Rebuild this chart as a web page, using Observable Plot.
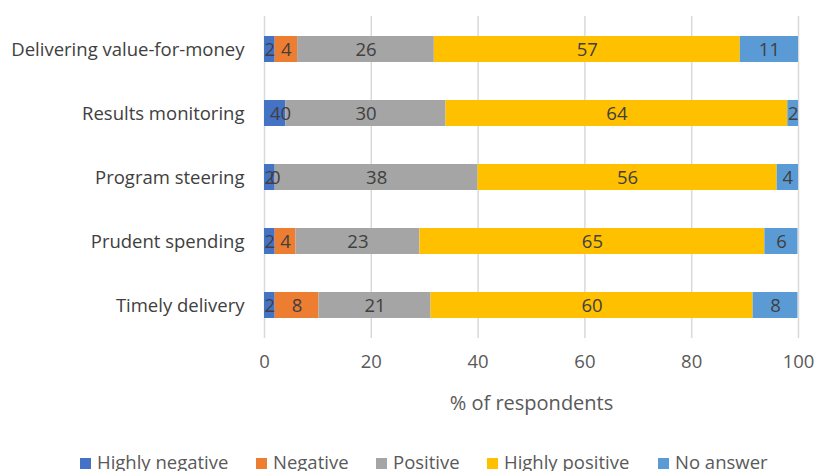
<!DOCTYPE html>
<html><head><meta charset="utf-8">
<script src="https://cdn.jsdelivr.net/npm/d3@7"></script>
<script src="https://cdn.jsdelivr.net/npm/@observablehq/plot@0.6"></script>
<style>
body{margin:0;background:#fff;font-family:"Open Sans", sans-serif;}
#legend{position:relative;width:816px;height:31px;overflow:hidden;}
.item{position:absolute;top:11px;height:22px;line-height:22px;font-size:18.5px;color:#595959;white-space:nowrap;}
.sw{display:inline-block;width:11px;height:11px;margin-right:6px;vertical-align:0px;}
</style></head><body><div id="chart"></div><div id="legend"></div>
<script>
const categories = ["Delivering value-for-money","Results monitoring","Program steering","Prudent spending","Timely delivery"];
const seriesNames = ["Highly negative","Negative","Positive","Highly positive","No answer"];
const colors = ["#4472C4","#ED7D31","#A5A5A5","#FFC000","#5B9BD5"];
const highlyNegative = [2, 4, 2, 2, 2];
const negative = [4.2, 0, 0, 3.9, 8.2];
const positive = [25.6, 30, 38, 23.2, 21];
const highlyPositive = [57.3, 64, 56, 64.6, 60.3];
const noAnswer = [10.9, 2, 4, 6.2, 8.4];
const xTicks = [0, 20, 40, 60, 80, 100];
const xLabel = "% of respondents";

const seriesValues = [highlyNegative, negative, positive, highlyPositive, noAnswer];
const data = [];
seriesValues.forEach((arr, s) => arr.forEach((v, i) => data.push({category: categories[i], series: seriesNames[s], value: v})));

const plot = Plot.plot({
  width: 816, height: 440,
  marginLeft: 264, marginRight: 18, marginTop: 16, marginBottom: 102,
  style: {fontFamily: "'Open Sans', sans-serif", fontSize: "18px", color: "#595959", background: "#fff", overflow: "visible"},
  x: {domain: [0, 100], label: null},
  y: {domain: categories, paddingInner: 0.6, paddingOuter: 0.3, label: null},
  color: {domain: seriesNames, range: colors},
  marks: [
    Plot.gridX(xTicks, {stroke: "#d9d9d9", strokeOpacity: 1, strokeWidth: 1.5}),
    Plot.barX(data, {x: "value", y: "category", fill: "series", z: "series"}),
    Plot.text(data, Plot.stackX({x: "value", y: "category", z: "series", text: d => String(Math.round(d.value)), fill: "#404040", fontSize: 18.5, dy: 1})),
    Plot.axisX({ticks: xTicks, tickSize: 0, tickPadding: 16, fontSize: 18.5, fill: "#595959", label: null}),
    Plot.axisY({tickSize: 0, tickPadding: 20, fontSize: 18.5, fill: "#404040", label: null, dy: 1}),
    Plot.text([xLabel], {frameAnchor: "bottom", dy: 71, fontSize: 20, fill: "#595959"})
  ]
});
document.getElementById("chart").append(plot);

const legendX = [80, 256, 376, 487, 658];
const legend = document.getElementById("legend");
seriesNames.forEach((name, i) => {
  const it = document.createElement("div");
  it.className = "item";
  it.style.left = legendX[i] + "px";
  it.innerHTML = `<span class="sw" style="background:${colors[i]}"></span>${name}`;
  legend.append(it);
});
</script>
</body></html>
